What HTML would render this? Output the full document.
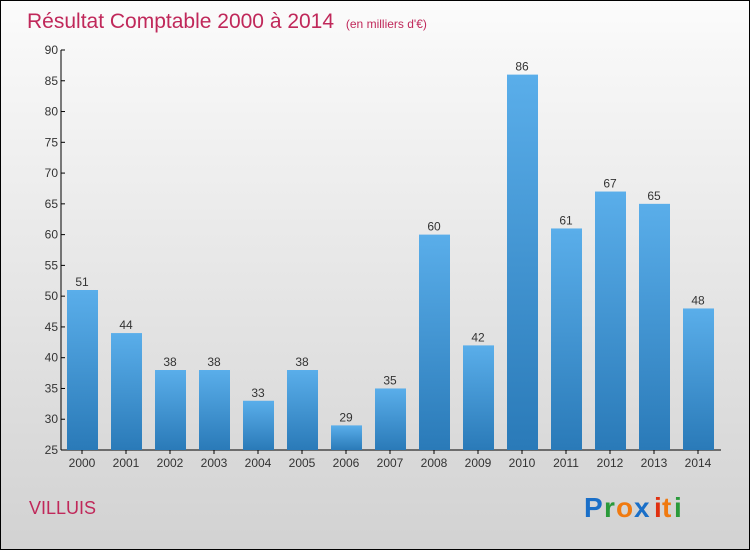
<!DOCTYPE html>
<html><head><meta charset="utf-8"><style>
body{margin:0;width:750px;height:550px;overflow:hidden;font-family:"Liberation Sans",sans-serif}
#wrap{position:relative;width:748px;height:548px;border:1px solid #000;background:linear-gradient(#fbfbfb,#d2d2d2)}
</style></head><body>
<div id="wrap">
<svg id="chart" width="748" height="548">
<defs><linearGradient id="bg" x1="0" y1="0" x2="0" y2="1"><stop offset="0" stop-color="#5aaeea"/><stop offset="1" stop-color="#2a7ab8"/></linearGradient></defs>
<text x="26" y="27" font-size="21" fill="#c0285a">Résultat Comptable 2000 à 2014 <tspan font-size="12" dx="6">(en milliers d'€)</tspan></text>
<text x="28" y="513" font-size="18" fill="#c0285a">VILLUIS</text>
<g font-size="28" font-weight="bold">
<text x="583" y="516" fill="#1a6fc8">P</text><text x="603" y="516" fill="#2a9a3a">r</text><text x="615" y="516" fill="#f07a10">o</text><text x="633" y="516" fill="#1a6fc8">x</text><text x="653" y="516" fill="#e03010">i</text><text x="661" y="516" fill="#f07a10">t</text><text x="673" y="516" fill="#2a9a3a">i</text>
</g>
<g id="g"></g>
</svg></div>
<script>
const categories=["2000","2001","2002","2003","2004","2005","2006","2007","2008","2009","2010","2011","2012","2013","2014"];
const values=[51,44,38,38,33,38,29,35,60,42,86,61,67,65,48];
const yTicks=[25,30,35,40,45,50,55,60,65,70,75,80,85,90];
const NS="http://www.w3.org/2000/svg",g=document.getElementById("g");
const y=v=>449-(v-25)*400/65, x=i=>81+i*44;
function mk(t,a){const e=document.createElementNS(NS,t);for(const k in a)e.setAttribute(k,a[k]);g.appendChild(e);return e;}
let ax=mk("line",{x1:60,y1:49,x2:60,y2:449,stroke:"#000"});


let bx=mk("line",{x1:60,y1:449,x2:720,y2:449,stroke:"#000"});


yTicks.forEach(v=>{
 const t=mk("line",{x1:60,x2:64,y1:y(v),y2:y(v),stroke:"#000"});
 
 
 const l=mk("text",{x:57,y:y(v)+4,"font-size":12,"text-anchor":"end",fill:"#333"});l.textContent=v;
 
 
});
categories.forEach((c,i)=>{
 const v=values[i];
 const b=mk("rect",{x:x(i)-15,y:y(v),width:31,height:449-y(v),fill:"url(#bg)"});
 
 
 const vl=mk("text",{x:x(i),y:y(v)-4,"font-size":12,"text-anchor":"middle",fill:"#333"});vl.textContent=v;
 
 
 const t=mk("line",{x1:x(i),x2:x(i),y1:449,y2:453,stroke:"#000"});
 
 
 const xl=mk("text",{x:x(i),y:466,"font-size":12,"text-anchor":"middle",fill:"#333"});xl.textContent=c;
 
 
});
</script>
</body></html>
